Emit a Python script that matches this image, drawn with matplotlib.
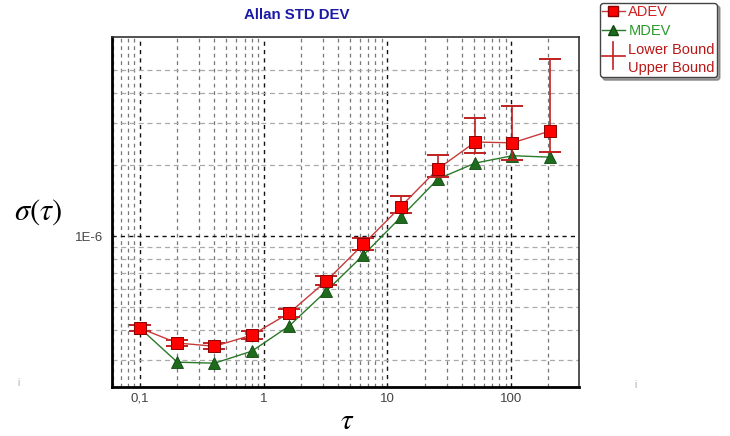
#%%
# libraries
import matplotlib
matplotlib.use('Agg')
import matplotlib.pyplot as plt
import numpy as np
from matplotlib.lines import Line2D
from matplotlib.legend_handler import HandlerBase
from matplotlib.ticker import FixedLocator, NullFormatter

#%%
# values
tau = [0.1, 0.2, 0.4, 0.8, 1.6, 3.2, 6.4, 12.8, 25.6, 51.2, 102.4, 204.8]

adev = [4.09e-7, 3.54e-7, 3.43e-7, 3.82e-7, 4.73e-7, 6.46e-7,
        9.25e-7, 1.33e-6, 1.92e-6, 2.49e-6, 2.47e-6, 2.77e-6]
adev_upper = [4.21e-7, 3.64e-7, 3.54e-7, 3.97e-7, 4.92e-7, 6.78e-7,
              9.81e-7, 1.48e-6, 2.20e-6, 3.15e-6, 3.54e-6, 5.58e-6]
adev_lower = [3.97e-7, 3.43e-7, 3.34e-7, 3.68e-7, 4.55e-7, 6.21e-7,
              8.73e-7, 1.25e-6, 1.77e-6, 2.24e-6, 2.09e-6, 2.26e-6]

mdev = [4.09e-7, 2.94e-7, 2.91e-7, 3.27e-7, 4.17e-7, 5.86e-7,
        8.32e-7, 1.20e-6, 1.74e-6, 2.03e-6, 2.18e-6, 2.15e-6]

xtick_vals = [0.1, 1, 10, 100]
xtick_labels = ['0,1', '1', '10', '100']
ytick_vals = [1e-6]
ytick_labels = ['1E-6']

#%%
plt.rcParams['font.family'] = ['Liberation Sans', 'DejaVu Sans']
plt.rcParams['mathtext.fontset'] = 'stix'

fig = plt.figure(figsize=(7.3, 4.36), dpi=100)
ax = fig.add_axes([112/730, 1 - 387/436, 467/730, 350/436])

ax.set_xscale('log')
ax.set_yscale('log')
ax.set_xlim(0.0594, 353)
ax.set_ylim(2.31e-7, 6.9e-6)

# grid
ax.xaxis.set_minor_locator(FixedLocator(
    [0.06, 0.07, 0.08, 0.09] + [k*0.1 for k in range(2, 10)] +
    list(range(2, 10)) + [k*10 for k in range(2, 10)] + [200]))
ax.yaxis.set_minor_locator(FixedLocator(
    [k*1e-7 for k in range(3, 10)] + [2e-6, 3e-6, 4e-6, 5e-6]))
ax.xaxis.set_minor_formatter(NullFormatter())
ax.yaxis.set_minor_formatter(NullFormatter())
ax.grid(which='minor', axis='x', color='#777777', linestyle=(0, (3, 3)), linewidth=0.9)
ax.grid(which='minor', axis='y', color='#aaaaaa', linestyle=(0, (4, 3)), linewidth=0.9)
ax.grid(which='major', axis='both', color='#111111', linestyle=(0, (3, 3)), linewidth=1.0)
ax.set_axisbelow(True)

ax.set_xticks(xtick_vals)
ax.set_xticklabels(xtick_labels)
ax.set_yticks(ytick_vals)
ax.set_yticklabels(ytick_labels)
ax.tick_params(which='both', length=0, labelsize=9.5, labelcolor='#444444')
ax.tick_params(axis='x', pad=4)
ax.tick_params(axis='y', pad=6)

for s in ['bottom', 'left']:
    ax.spines[s].set_linewidth(2)
    ax.spines[s].set_color('black')
for s in ['top', 'right']:
    ax.spines[s].set_linewidth(1.2)
    ax.spines[s].set_color('#333333')

# curves
ax.plot(tau, mdev, color='#2a7a2a', linewidth=1, marker='^', markersize=8,
        markerfacecolor='#1e6b1e', markeredgecolor='#0f4a0f', markeredgewidth=0.6, zorder=3)
yerr = [np.array(adev) - np.array(adev_lower), np.array(adev_upper) - np.array(adev)]
ax.errorbar(tau, adev, yerr=yerr, fmt='none', ecolor='#c02020', elinewidth=1.2,
            capsize=8, capthick=1.4, zorder=4)
ax.plot(tau, adev, color='#c83a3a', linewidth=1, marker='s', markersize=8,
        markerfacecolor='#ff0000', markeredgecolor='#8b0000', markeredgewidth=0.7, zorder=5)

# texts
fig.text(297/730, 1 - 15/436, 'Allan STD DEV', ha='center', va='center',
         fontsize=10.8, fontweight='bold', color='#1a1aa6')
fig.text(38/730, 1 - 212/436, r'$\sigma(\tau)$', ha='center', va='center', fontsize=22)
fig.text(347/730, 1 - 421/436, r'$\tau$', ha='center', va='center', fontsize=21)
fig.text(18/730, 1 - 383/436, 'i', ha='center', va='center', fontsize=7, color='#aaaaaa')
fig.text(635/730, 1 - 385/436, 'i', ha='center', va='center', fontsize=7, color='#aaaaaa')

# legend
class CrossHandler(HandlerBase):
    def create_artists(self, legend, orig_handle, xdescent, ydescent,
                       width, height, fontsize, trans):
        cx = width/2 - xdescent
        cy = -ydescent - 0.2*height
        h = Line2D([0 - xdescent, width - xdescent], [cy, cy], color='#c02020', lw=1.2, transform=trans)
        v = Line2D([cx, cx], [cy + 1.3*height, cy - 1.3*height], color='#c02020', lw=1.2, transform=trans)
        return [h, v]

class EmptyHandler(HandlerBase):
    def create_artists(self, legend, orig_handle, xdescent, ydescent,
                       width, height, fontsize, trans):
        return [Line2D([], [], color='none', transform=trans)]

h_adev = Line2D([], [], color='#c83a3a', lw=1, marker='s', markersize=7,
                markerfacecolor='#ff0000', markeredgecolor='#8b0000')
h_mdev = Line2D([], [], color='#2a7a2a', lw=1, marker='^', markersize=7,
                markerfacecolor='#1e6b1e', markeredgecolor='#0f4a0f')
h_low = Line2D([], [])
h_up = Line2D([], [], color='none')
leg = fig.legend([h_adev, h_mdev, h_low, h_up],
                 ['ADEV', 'MDEV', 'Lower Bound', 'Upper Bound'],
                 loc='upper left', bbox_to_anchor=(600/730, 1 - 3/436),
                 fontsize=10.5, handlelength=1.55, handletextpad=0.25,
                 labelspacing=0.32, borderpad=0.15, borderaxespad=0,
                 fancybox=True, shadow=True, framealpha=1,
                 labelcolor=['#d02020', '#2a9a2a', '#b81818', '#b81818'],
                 handler_map={h_low: CrossHandler(), h_up: EmptyHandler()})
leg.get_frame().set_edgecolor('#444444')
leg.get_frame().set_linewidth(1.0)

fig.savefig('out.png', dpi=100)
